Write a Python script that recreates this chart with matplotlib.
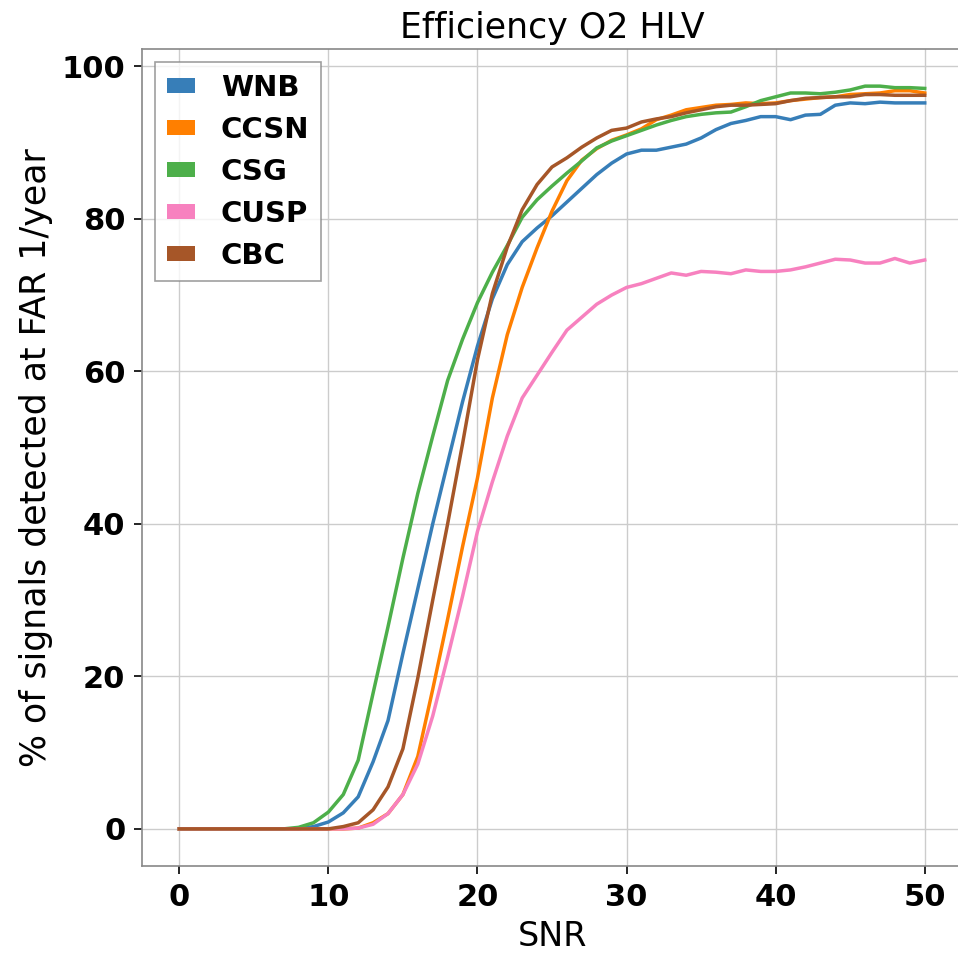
import numpy as np
import matplotlib
matplotlib.use('Agg')
import matplotlib.pyplot as plt
from matplotlib.patches import Patch

# SNR grid 0..50
snr = np.arange(0, 51)

wnb = [0, 0, 0, 0, 0, 0, 0, 0, 0, 0.3,
       0.9, 2.1, 4.2, 8.8, 14.2, 23.0, 31.5, 40.0, 48.0, 56.0,
       63.3, 69.5, 74.0, 77.0, 78.8, 80.4, 82.2, 84.0, 85.8, 87.3,
       88.5, 89.0, 89.0, 89.4, 89.8, 90.6, 91.7, 92.5, 92.9, 93.4,
       93.4, 93.0, 93.6, 93.7, 94.9, 95.2, 95.1, 95.3, 95.2, 95.2, 95.2]
ccsn = [0, 0, 0, 0, 0, 0, 0, 0, 0, 0,
        0, 0, 0.1, 0.8, 2.0, 4.5, 9.5, 18.3, 27.5, 37.0,
        46.0, 56.5, 64.8, 71.0, 76.2, 81.0, 85.0, 87.7, 89.2, 90.3,
        91.0, 91.8, 93.0, 93.6, 94.3, 94.6, 94.9, 95.0, 95.2, 95.1,
        95.2, 95.5, 95.7, 95.9, 96.0, 96.3, 96.4, 96.5, 96.8, 96.8, 96.5]
csg = [0, 0, 0, 0, 0, 0, 0, 0, 0.2, 0.8,
       2.2, 4.5, 9.0, 17.8, 26.5, 35.5, 44.0, 51.5, 58.8, 64.2,
       69.0, 73.0, 76.5, 80.2, 82.5, 84.3, 86.0, 87.6, 89.3, 90.2,
       90.9, 91.6, 92.3, 92.9, 93.4, 93.7, 93.9, 94.0, 94.7, 95.5,
       96.0, 96.5, 96.5, 96.4, 96.6, 96.9, 97.4, 97.4, 97.2, 97.2, 97.1]
cusp = [0, 0, 0, 0, 0, 0, 0, 0, 0, 0,
        0, 0, 0.1, 0.6, 2.0, 4.5, 8.5, 14.8, 22.5, 30.5,
        39.0, 45.5, 51.5, 56.5, 59.5, 62.5, 65.4, 67.1, 68.8, 70.0,
        71.0, 71.5, 72.2, 72.9, 72.6, 73.1, 73.0, 72.8, 73.3, 73.1,
        73.1, 73.3, 73.7, 74.2, 74.7, 74.6, 74.2, 74.2, 74.8, 74.2, 74.6]
cbc = [0, 0, 0, 0, 0, 0, 0, 0, 0, 0,
       0, 0.3, 0.8, 2.5, 5.5, 10.5, 19.8, 30.0, 40.0, 50.5,
       61.5, 70.2, 76.3, 81.2, 84.5, 86.8, 88.0, 89.4, 90.6, 91.6,
       91.9, 92.7, 93.1, 93.4, 93.9, 94.3, 94.7, 94.9, 94.9, 95.0,
       95.1, 95.5, 95.8, 95.9, 96.0, 96.0, 96.3, 96.3, 96.2, 96.2, 96.2]

names = ['WNB', 'CCSN', 'CSG', 'CUSP', 'CBC']
colors = ['#377eb8', '#ff7f00', '#4daf4a', '#f781bf', '#a65628']
series = [wnb, ccsn, csg, cusp, cbc]

fig = plt.figure(figsize=(9.58, 9.56), dpi=100)
ax = fig.add_axes([142 / 958, 90 / 956, 820 / 958, 817 / 956])

for y, c in zip(series, colors):
    ax.plot(snr, y, color=c, lw=2.5)

ax.grid(True, color='#cccccc', lw=1.0)
ax.set_axisbelow(True)
for s in ax.spines.values():
    s.set_color('#888888')
    s.set_linewidth(1.2)

ax.set_xticks([0, 10, 20, 30, 40, 50])
ax.set_yticks([0, 20, 40, 60, 80, 100])
ax.tick_params(labelsize=22, length=6, width=1.2, pad=6)
for lab in ax.get_xticklabels() + ax.get_yticklabels():
    lab.set_fontweight('bold')

ax.set_title('Efficiency O2 HLV', fontsize=25, pad=8)
ax.set_xlabel('SNR', fontsize=24, labelpad=6)
ax.set_ylabel('% of signals detected at FAR 1/year', fontsize=25, labelpad=6)

handles = [Patch(facecolor=c, label=n) for n, c in zip(names, colors)]
leg = ax.legend(handles=handles, loc='upper left', fancybox=False,
                prop={'weight': 'bold', 'size': 21}, edgecolor='#888888',
                handlelength=0.95, handleheight=0.45, handletextpad=0.9,
                labelspacing=0.48, borderpad=0.4, borderaxespad=0.45)
leg.get_frame().set_linewidth(1.2)

fig.savefig('out.png', dpi=100)
